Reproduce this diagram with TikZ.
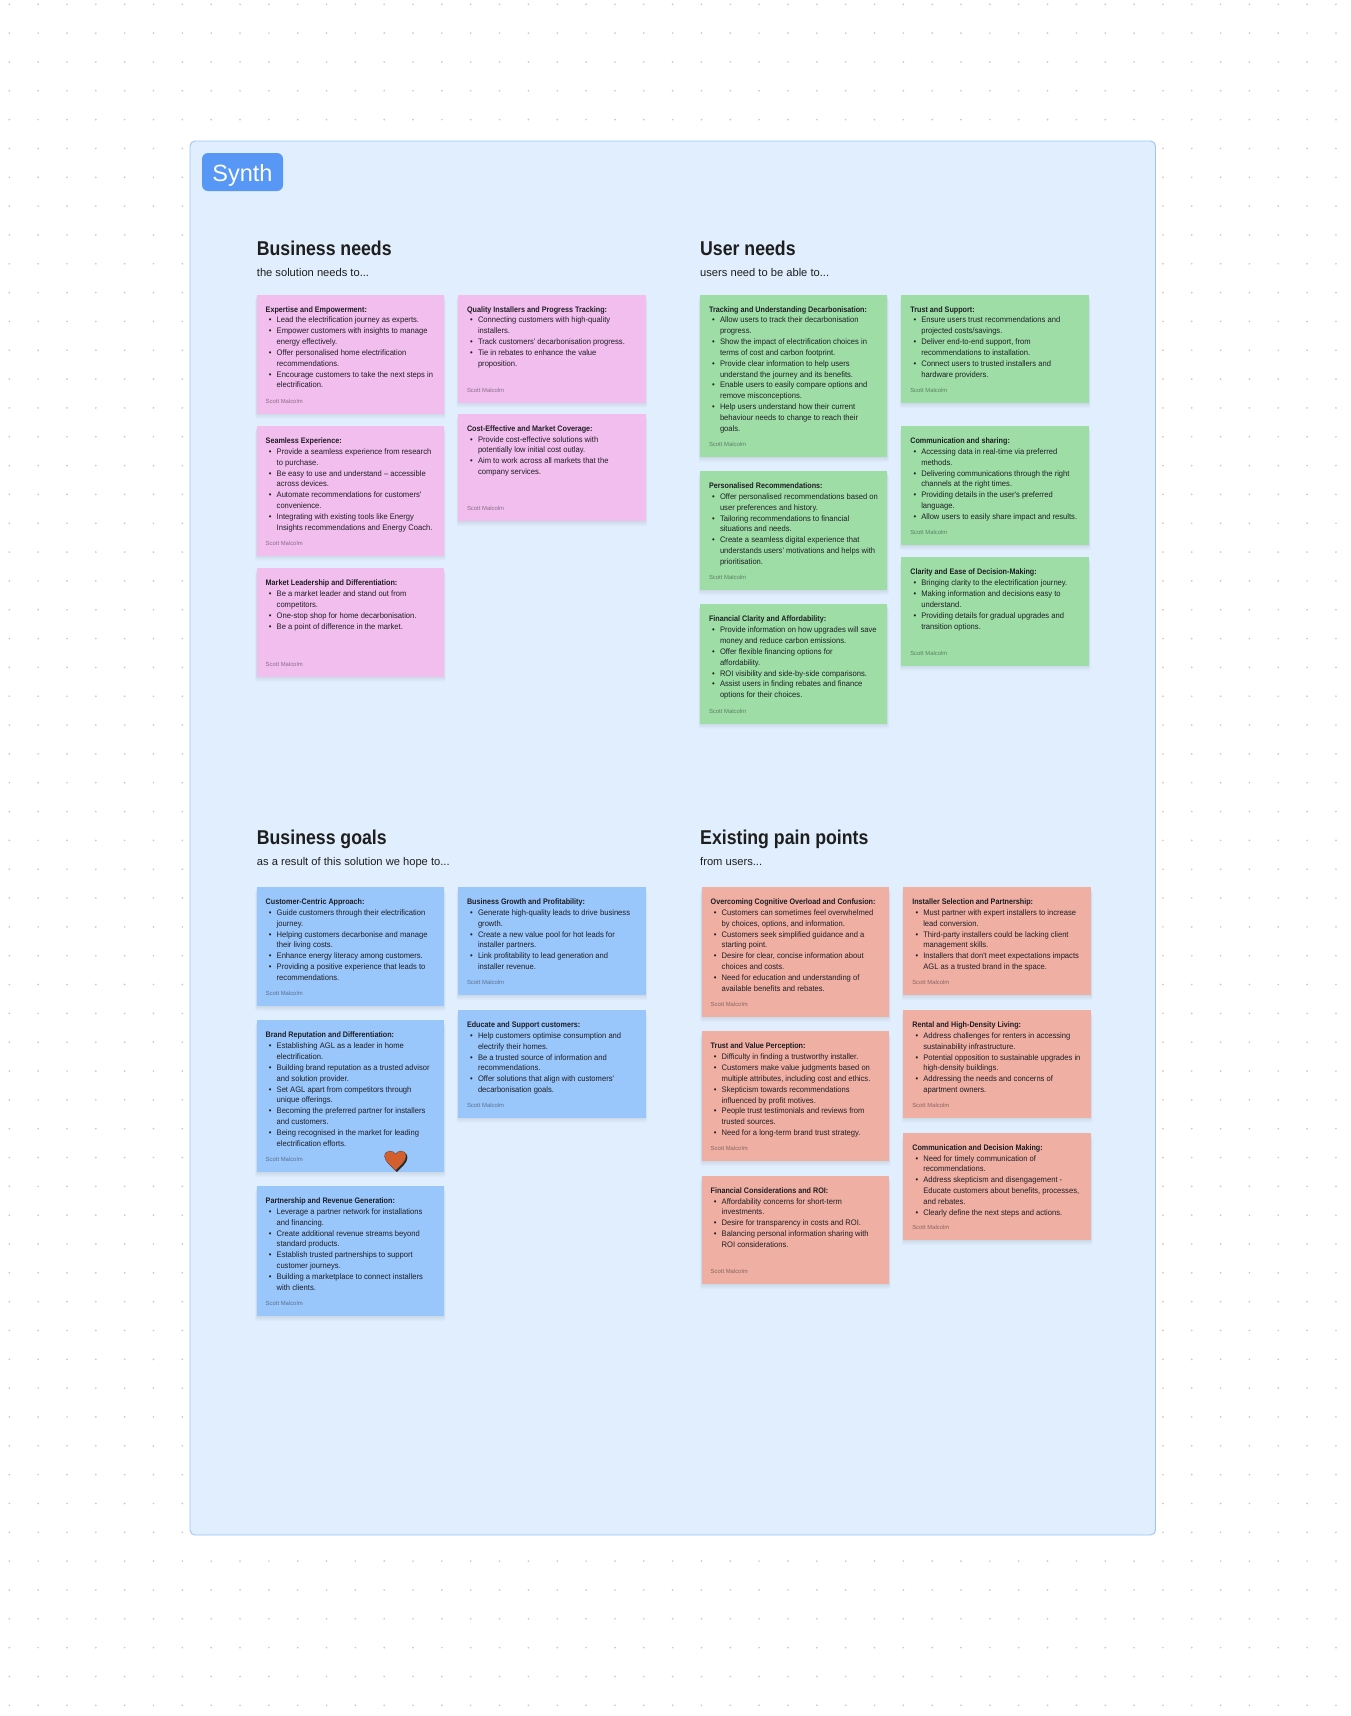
\documentclass[tikz,border=0pt]{standalone}
\usepackage{fontspec}
\setmainfont{Liberation Sans}
\newfontfamily\cardregular[FakeStretch=0.95]{Liberation Sans}
\newfontfamily\cardbold[FakeStretch=0.90]{Liberation Sans Bold}
\newfontfamily\headbold[FakeStretch=0.885]{Liberation Sans Bold}
\definecolor{frameFill}{HTML}{E0EEFD}
\definecolor{frameLine}{HTML}{9CC5FA}
\definecolor{synthBlue}{HTML}{5797F5}
\definecolor{pinkCard}{HTML}{F2BEEE}
\definecolor{greenCard}{HTML}{9EDEA6}
\definecolor{blueCard}{HTML}{99C6FB}
\definecolor{salmonCard}{HTML}{F0AFA3}
\definecolor{inkDark}{HTML}{1E1E1E}
\definecolor{inkBody}{HTML}{1E1E24}
\definecolor{dotGrey}{HTML}{C9C9C9}
\definecolor{heartOrange}{HTML}{D35F2E}
\newcommand\cardfont{\cardregular\fontsize{8}{10.83}\selectfont}
\newcommand\B{\makebox[11pt][l]{\hspace{3.2pt}\raisebox{0pt}{\fontsize{8}{8}\selectfont •}}}
\newcommand\C{\hspace*{11pt}}
\tikzset{
  x=1pt,y=-1pt,
  cardbox/.style={inner sep=0pt,outer sep=0pt},
  cardbody/.style={anchor=north west,inner sep=0pt,outer sep=0pt,align=left,font=\cardfont,text=inkBody},
  cardauthor/.style={anchor=west,inner sep=0pt,outer sep=0pt,font=\fontsize{5.9}{7}\selectfont,text=inkBody,text opacity=.5},
  heading/.style={anchor=base west,inner sep=0pt,font=\headbold\fontsize{20}{24}\selectfont,text=inkDark},
  subheading/.style={anchor=base west,inner sep=0pt,font=\fontsize{11.15}{14}\selectfont,text=inkDark},
  cardshadow/.style={fill=black,fill opacity=.016},
}
\newcommand\card[7]{%
  \foreach \s in {0,1,2,3,4,5}{\fill[cardshadow,rounded corners=1pt] ({#2-.3*\s},{#3+\s}) rectangle ({#4+.3*\s},{#5+\s});}
  \node[cardbox,fill=#6,minimum width={(#4-#2)*1pt},minimum height={(#5-#3)*1pt}] (#1) at ({(#2+#4)/2},{(#3+#5)/2}) {};
  \node[cardbody] (#1t) at ([shift={(9,10)}]#1.north west) {#7};
  \node[cardauthor] (#1a) at ([shift={(9,-12.5)}]#1.south west) {Scott Malcolm};
}
\newcommand\T[1]{\strut{\cardbold #1}}
\begin{document}
\begin{tikzpicture}
\useasboundingbox (0,0) rectangle (1350,1716);
\fill[white] (0,0) rectangle (1350,1716);
\fill[dotGrey] foreach \i in {0,...,46} { foreach \j in {0,...,59} { ({9.3+\i*28.84},{4.3+\j*28.83}) circle (0.95) } };
\draw[fill=frameFill,draw=frameLine,line width=0.9pt,rounded corners=5pt] (190,141) rectangle (1155.5,1535);
\node[fill=synthBlue,rounded corners=6pt,inner sep=0pt,outer sep=0pt,minimum width=81pt,minimum height=38pt] (synth) at (242.5,172) {};
\node[anchor=base,inner sep=0pt,text=white,font=\fontsize{23.5}{28}\selectfont] (synthlabel) at (242.5,181.5) {Synth};

\node[heading] (h1) at (256.7,255.5) {Business needs};
\node[subheading] (s1) at (256.7,276) {the solution needs to...};
\node[heading] (h2) at (700,255.5) {User needs};
\node[subheading] (s2) at (700,276) {users need to be able to...};
\node[heading] (h3) at (256.7,844.5) {Business goals};
\node[subheading] (s3) at (256.7,865) {as a result of this solution we hope to...};
\node[heading] (h4) at (700,844.5) {Existing pain points};
\node[subheading] (s4) at (700,865) {from users...};

% Business needs
\card{bnA}{256.7}{294.5}{444}{413.7}{pinkCard}{\T{Expertise and Empowerment:}\\
\B Lead the electrification journey as experts.\\
\B Empower customers with insights to manage\\
\C energy effectively.\\
\B Offer personalised home electrification\\
\C recommendations.\\
\B Encourage customers to take the next steps in\\
\C electrification.}
\card{bnB}{256.7}{426}{444}{555.7}{pinkCard}{\T{Seamless Experience:}\\
\B Provide a seamless experience from research\\
\C to purchase.\\
\B Be easy to use and understand – accessible\\
\C across devices.\\
\B Automate recommendations for customers'\\
\C convenience.\\
\B Integrating with existing tools like Energy\\
\C Insights recommendations and Energy Coach.}
\card{bnC}{256.7}{568.3}{444}{676.7}{pinkCard}{\T{Market Leadership and Differentiation:}\\
\B Be a market leader and stand out from\\
\C competitors.\\
\B One-stop shop for home decarbonisation.\\
\B Be a point of difference in the market.}
\card{bnD}{458}{294.5}{645.7}{402.7}{pinkCard}{\T{Quality Installers and Progress Tracking:}\\
\B Connecting customers with high-quality\\
\C installers.\\
\B Track customers' decarbonisation progress.\\
\B Tie in rebates to enhance the value\\
\C proposition.}
\card{bnE}{458}{413.7}{645.7}{521}{pinkCard}{\T{Cost-Effective and Market Coverage:}\\
\B Provide cost-effective solutions with\\
\C potentially low initial cost outlay.\\
\B Aim to work across all markets that the\\
\C company services.}

% User needs
\card{unA}{700}{294.5}{887.3}{457}{greenCard}{\T{Tracking and Understanding Decarbonisation:}\\
\B Allow users to track their decarbonisation\\
\C progress.\\
\B Show the impact of electrification choices in\\
\C terms of cost and carbon footprint.\\
\B Provide clear information to help users\\
\C understand the journey and its benefits.\\
\B Enable users to easily compare options and\\
\C remove misconceptions.\\
\B Help users understand how their current\\
\C behaviour needs to change to reach their\\
\C goals.}
\card{unB}{700}{471}{887.3}{590}{greenCard}{\T{Personalised Recommendations:}\\
\B Offer personalised recommendations based on\\
\C user preferences and history.\\
\B Tailoring recommendations to financial\\
\C situations and needs.\\
\B Create a seamless digital experience that\\
\C understands users' motivations and helps with\\
\C prioritisation.}
\card{unC}{700}{604.3}{887.3}{723.7}{greenCard}{\T{Financial Clarity and Affordability:}\\
\B Provide information on how upgrades will save\\
\C money and reduce carbon emissions.\\
\B Offer flexible financing options for\\
\C affordability.\\
\B ROI visibility and side-by-side comparisons.\\
\B Assist users in finding rebates and finance\\
\C options for their choices.}
\card{unD}{901.3}{294.5}{1089}{403}{greenCard}{\T{Trust and Support:}\\
\B Ensure users trust recommendations and\\
\C projected costs/savings.\\
\B Deliver end-to-end support, from\\
\C recommendations to installation.\\
\B Connect users to trusted installers and\\
\C hardware providers.}
\card{unE}{901.3}{426}{1089}{545}{greenCard}{\T{Communication and sharing:}\\
\B Accessing data in real-time via preferred\\
\C methods.\\
\B Delivering communications through the right\\
\C channels at the right times.\\
\B Providing details in the user's preferred\\
\C language.\\
\B Allow users to easily share impact and results.}
\card{unF}{901.3}{557.3}{1089}{665.7}{greenCard}{\T{Clarity and Ease of Decision-Making:}\\
\B Bringing clarity to the electrification journey.\\
\B Making information and decisions easy to\\
\C understand.\\
\B Providing details for gradual upgrades and\\
\C transition options.}

% Business goals
\card{bgA}{256.7}{887}{444}{1006}{blueCard}{\T{Customer-Centric Approach:}\\
\B Guide customers through their electrification\\
\C journey.\\
\B Helping customers decarbonise and manage\\
\C their living costs.\\
\B Enhance energy literacy among customers.\\
\B Providing a positive experience that leads to\\
\C recommendations.}
\card{bgB}{256.7}{1020.3}{444}{1172}{blueCard}{\T{Brand Reputation and Differentiation:}\\
\B Establishing AGL as a leader in home\\
\C electrification.\\
\B Building brand reputation as a trusted advisor\\
\C and solution provider.\\
\B Set AGL apart from competitors through\\
\C unique offerings.\\
\B Becoming the preferred partner for installers\\
\C and customers.\\
\B Being recognised in the market for leading\\
\C electrification efforts.}
\card{bgC}{256.7}{1186}{444}{1316}{blueCard}{\T{Partnership and Revenue Generation:}\\
\B Leverage a partner network for installations\\
\C and financing.\\
\B Create additional revenue streams beyond\\
\C standard products.\\
\B Establish trusted partnerships to support\\
\C customer journeys.\\
\B Building a marketplace to connect installers\\
\C with clients.}
\card{bgD}{458}{887}{645.7}{995.3}{blueCard}{\T{Business Growth and Profitability:}\\
\B Generate high-quality leads to drive business\\
\C growth.\\
\B Create a new value pool for hot leads for\\
\C installer partners.\\
\B Link profitability to lead generation and\\
\C installer revenue.}
\card{bgE}{458}{1010}{645.7}{1117.7}{blueCard}{\T{Educate and Support customers:}\\
\B Help customers optimise consumption and\\
\C electrify their homes.\\
\B Be a trusted source of information and\\
\C recommendations.\\
\B Offer solutions that align with customers'\\
\C decarbonisation goals.}

% Existing pain points
\card{ppA}{701.7}{887}{889}{1017}{salmonCard}{\T{Overcoming Cognitive Overload and Confusion:}\\
\B Customers can sometimes feel overwhelmed\\
\C by choices, options, and information.\\
\B Customers seek simplified guidance and a\\
\C starting point.\\
\B Desire for clear, concise information about\\
\C choices and costs.\\
\B Need for education and understanding of\\
\C available benefits and rebates.}
\card{ppB}{701.7}{1031.3}{889}{1161}{salmonCard}{\T{Trust and Value Perception:}\\
\B Difficulty in finding a trustworthy installer.\\
\B Customers make value judgments based on\\
\C multiple attributes, including cost and ethics.\\
\B Skepticism towards recommendations\\
\C influenced by profit motives.\\
\B People trust testimonials and reviews from\\
\C trusted sources.\\
\B Need for a long-term brand trust strategy.}
\card{ppC}{701.7}{1175.7}{889}{1284}{salmonCard}{\T{Financial Considerations and ROI:}\\
\B Affordability concerns for short-term\\
\C investments.\\
\B Desire for transparency in costs and ROI.\\
\B Balancing personal information sharing with\\
\C ROI considerations.}
\card{ppD}{903.3}{887}{1091}{995.3}{salmonCard}{\T{Installer Selection and Partnership:}\\
\B Must partner with expert installers to increase\\
\C lead conversion.\\
\B Third-party installers could be lacking client\\
\C management skills.\\
\B Installers that don't meet expectations impacts\\
\C AGL as a trusted brand in the space.}
\card{ppE}{903.3}{1010}{1091}{1117.7}{salmonCard}{\T{Rental and High-Density Living:}\\
\B Address challenges for renters in accessing\\
\C sustainability infrastructure.\\
\B Potential opposition to sustainable upgrades in\\
\C high-density buildings.\\
\B Addressing the needs and concerns of\\
\C apartment owners.}
\card{ppF}{903.3}{1132.7}{1091}{1240}{salmonCard}{\T{Communication and Decision Making:}\\
\B Need for timely communication of\\
\C recommendations.\\
\B Address skepticism and disengagement -\\
\C Educate customers about benefits, processes,\\
\C and rebates.\\
\B Clearly define the next steps and actions.}

% Heart
\def\heartpath{(395.5,1170.5) .. controls (391,1166) and (385,1161.5) .. (384.6,1156.5) .. controls (384.4,1152.5) and (387.5,1151) .. (390,1151) .. controls (392.5,1151) and (394.5,1152.5) .. (395.5,1154) .. controls (396.5,1152.5) and (398.5,1151) .. (401,1151) .. controls (403.5,1151) and (406.2,1152.5) .. (406,1156.5) .. controls (405.7,1161.5) and (400,1166) .. (395.5,1170.5) -- cycle}
\fill[black!85,shift={(1.4,1.4)}] \heartpath;
\draw[fill=heartOrange,draw=black!70,line width=.35pt] \heartpath;
\end{tikzpicture}
\end{document}
